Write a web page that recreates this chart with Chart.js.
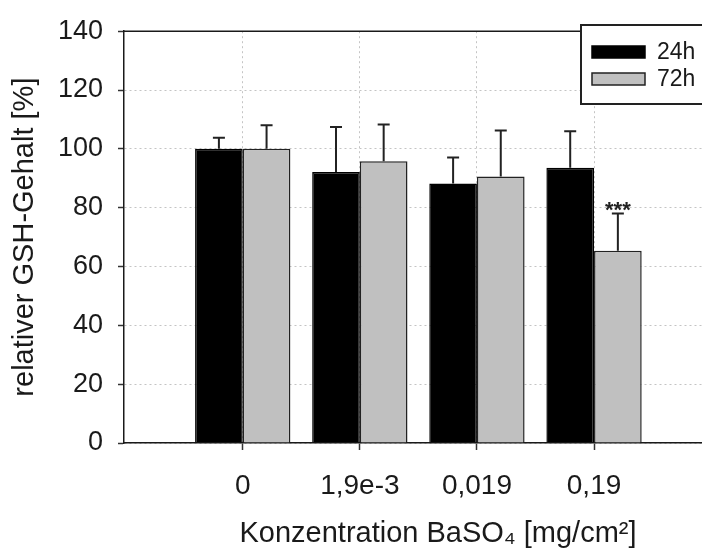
<!DOCTYPE html>
<html>
<head>
<meta charset="utf-8">
<script src="https://cdn.jsdelivr.net/npm/chart.js@4.4.1/dist/chart.umd.min.js"></script>
<style>
  html, body { margin: 0; padding: 0; background: #fff; }
  /* plot frame runs off the right edge in the original, so the canvas is a bit wider and clipped */
  #wrap { width: 702px; height: 552px; overflow: hidden; }
</style>
</head>
<body>
<div id="wrap"><canvas id="chart" width="752" height="552"></canvas></div>
<script>
const categories = ['0', '1,9e-3', '0,019', '0,19'];
const mean24 = [100, 92.1, 88.2, 93.6];
const err24 = [3.8, 15.3, 8.9, 12.4];
const mean72 = [100, 95.8, 90.6, 65.4];
const err72 = [8.0, 12.5, 15.6, 12.6];
const sig72 = ['', '', '', '***'];
const yTicks = [0, 20, 40, 60, 80, 100, 120, 140];

const FONT = "'Liberation Sans', Arial, sans-serif";
const INK = '#1a1a1a';

// error whiskers, significance stars, top frame line and the boxed legend
const decor = {
  id: 'decor',
  afterDatasetsDraw(chart) {
    const ctx = chart.ctx;
    const yScale = chart.scales.y;
    chart.data.datasets.forEach((ds, d) => {
      const meta = chart.getDatasetMeta(d);
      meta.data.forEach((bar, i) => {
        const top = yScale.getPixelForValue(ds.data[i].y + ds.err[i]);
        ctx.save();
        ctx.strokeStyle = '#222';
        ctx.lineWidth = 2;
        ctx.beginPath();
        ctx.moveTo(bar.x, bar.y);
        ctx.lineTo(bar.x, top);
        ctx.moveTo(bar.x - 6, top);
        ctx.lineTo(bar.x + 6, top);
        ctx.stroke();
        if (ds.sig && ds.sig[i]) {
          ctx.fillStyle = '#222';
          ctx.font = 'bold 22px ' + FONT;
          ctx.textAlign = 'center';
          ctx.textBaseline = 'alphabetic';
          ctx.fillText(ds.sig[i], bar.x, top + 3);
        }
        ctx.restore();
      });
    });
  },
  afterDraw(chart) {
    const ctx = chart.ctx;
    const area = chart.chartArea;
    ctx.save();
    ctx.strokeStyle = INK;
    ctx.lineWidth = 1.5;
    ctx.beginPath();
    ctx.moveTo(area.left, area.top);
    ctx.lineTo(area.right, area.top);
    ctx.stroke();

    // legend box
    const bx = 581, by = 25;
    ctx.fillStyle = '#fff';
    ctx.fillRect(bx, by, 200, 79);
    ctx.lineWidth = 2;
    ctx.strokeStyle = '#222';
    ctx.strokeRect(bx, by, 200, 79);
    chart.data.datasets.forEach((ds, d) => {
      const sy = by + 21 + d * 27;
      ctx.fillStyle = ds.backgroundColor;
      ctx.fillRect(bx + 11, sy, 53, 12);
      ctx.lineWidth = 1.5;
      ctx.strokeStyle = ds.borderColor;
      ctx.strokeRect(bx + 11, sy, 53, 12);
      ctx.fillStyle = INK;
      ctx.font = '23px ' + FONT;
      ctx.textAlign = 'left';
      ctx.textBaseline = 'middle';
      ctx.fillText(ds.label, bx + 76, sy + 7);
    });
    ctx.restore();
  }
};

const toPoints = values => values.map((v, i) => ({ x: i + 1, y: v }));

new Chart(document.getElementById('chart'), {
  type: 'bar',
  data: {
    datasets: [
      {
        label: '24h',
        data: toPoints(mean24),
        err: err24,
        backgroundColor: '#000000',
        borderColor: '#000000',
        borderWidth: 1.5,
      },
      {
        label: '72h',
        data: toPoints(mean72),
        err: err72,
        sig: sig72,
        backgroundColor: '#c0c0c0',
        borderColor: '#222222',
        borderWidth: 1.5,
      },
    ],
  },
  options: {
    responsive: false,
    animation: false,
    layout: { padding: 0 },
    datasets: {
      bar: { barPercentage: 1, categoryPercentage: 0.814 },
    },
    plugins: {
      legend: { display: false },
      tooltip: { enabled: false },
    },
    scales: {
      x: {
        type: 'linear',
        offset: false,
        min: -0.014,
        max: 5.349,
        afterBuildTicks: scale => {
          scale.ticks = categories.map((c, i) => ({ value: i + 1 }));
        },
        afterFit: scale => { scale.height = 109; },
        ticks: {
          callback: v => categories[Math.round(v) - 1] ?? '',
          font: { family: FONT, size: 28 },
          color: INK,
          padding: 19,
          maxRotation: 0,
          autoSkip: false,
        },
        grid: {
          offset: false,
          color: '#c4c4c4',
          lineWidth: 1,
          tickLength: 7,
          tickColor: '#333',
          tickWidth: 1.5,
        },
        border: { color: INK, width: 1.5, dash: [2, 3] },
        title: {
          display: true,
          text: 'Konzentration BaSO₄ [mg/cm²]',
          font: { family: FONT, size: 29 },
          color: INK,
          padding: { top: 0, bottom: 1 },
        },
      },
      y: {
        min: 0,
        max: 140,
        afterBuildTicks: scale => {
          scale.ticks = yTicks.map(v => ({ value: v }));
        },
        afterFit: scale => { scale.width = 124; },
        ticks: {
          font: { family: FONT, size: 27 },
          color: INK,
          padding: 15,
        },
        grid: {
          color: '#c4c4c4',
          lineWidth: 1,
          tickLength: 6,
          tickColor: '#333',
          tickWidth: 1.5,
        },
        border: { color: INK, width: 1.5, dash: [2, 3] },
        title: {
          display: true,
          text: 'relativer GSH-Gehalt [%]',
          font: { family: FONT, size: 29 },
          color: INK,
          padding: { top: 8, bottom: 0 },
        },
      },
    },
  },
  plugins: [decor],
});
</script>
</body>
</html>
